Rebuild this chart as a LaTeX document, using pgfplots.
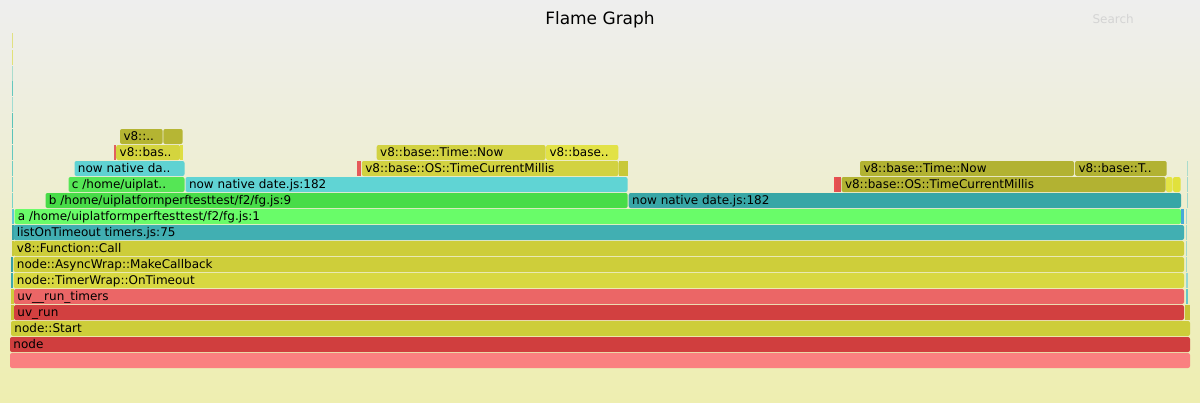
\documentclass[border=0pt]{standalone}
\usepackage{fontspec}
\setmainfont{DejaVu Sans}
\usepackage{pgfplots}
\pgfplotsset{compat=1.18}
\newcommand\lab{\fontsize{12bp}{14bp}\selectfont}
\definecolor{bgtop}{RGB}{238,238,238}
\definecolor{bgbot}{RGB}{238,238,176}
\definecolor{searchgray}{RGB}{212,212,212}
% frame: left x, width, top y, R, G, B, label
\newcommand\frm[7]{%
  \pgfmathsetmacro\xa{#1}\pgfmathsetmacro\xb{#1+#2}%
  \pgfmathsetmacro\ya{#3}\pgfmathsetmacro\yb{#3+15}%
  \ifdim#2pt>5pt
    \addplot[draw=none, fill={rgb,255:red,#4;green,#5;blue,#6}, rounded corners=2bp]
      coordinates {(\xa,\ya) (\xb,\ya) (\xb,\yb) (\xa,\yb)} -- cycle;
  \else
    \addplot[draw=none, fill={rgb,255:red,#4;green,#5;blue,#6}]
      coordinates {(\xa,\ya) (\xb,\ya) (\xb,\yb) (\xa,\yb)} -- cycle;
  \fi
  \node[anchor=base west, inner sep=0pt, font=\lab, text=black] at (axis cs:{#1+3.3},{#3+11}) {#7};
}
\begin{document}
\begin{tikzpicture}
\begin{axis}[
  scale only axis,
  width=1200bp, height=402bp,
  xmin=0, xmax=1200, ymin=0, ymax=402,
  y dir=reverse,
  axis line style={draw=none},
  ticks=none,
  clip=false,
  axis background/.style={top color=bgtop, bottom color=bgbot},
]
\frm{10}{1180}{353}{250}{128}{128}{}
\frm{10}{1180}{337}{208}{62}{62}{node}
\frm{11}{1179}{321}{205}{205}{58}{node::Start}
\frm{11}{3}{305}{200}{200}{55}{}
\frm{14}{1170}{305}{210}{64}{64}{uv\_run}
\frm{1184.5}{5}{305}{200}{195}{55}{}
\frm{11}{2.5}{289}{205}{205}{60}{}
\frm{14}{1170}{289}{235}{102}{102}{uv\_\_run\_timers}
\frm{1185.5}{2}{289}{100}{200}{200}{}
\frm{11}{2}{273}{60}{170}{170}{}
\frm{13.5}{1170.5}{273}{216}{216}{65}{node::TimerWrap::OnTimeout}
\frm{1186}{1.5}{273}{150}{215}{210}{}
\frm{11}{2}{257}{55}{160}{165}{}
\frm{13.5}{1170.5}{257}{206}{206}{58}{node::AsyncWrap::MakeCallback}
\frm{1186}{1}{257}{160}{215}{205}{}
\frm{12}{1.5}{241}{200}{200}{60}{}
\frm{13.5}{1170.5}{241}{205}{205}{58}{v8::Function::Call}
\frm{1186}{1}{241}{160}{215}{205}{}
\frm{12}{1.5}{225}{55}{160}{165}{}
\frm{13.5}{1170.5}{225}{65}{175}{178}{listOnTimeout timers.js:75}
\frm{1186}{1}{225}{160}{215}{205}{}
\frm{12}{2}{209}{95}{200}{215}{}
\frm{14.5}{1166.5}{209}{105}{252}{105}{a /home/uiplatformperftesttest/f2/fg.js:1}
\frm{1181}{3}{209}{70}{170}{215}{}
\frm{1186}{1}{209}{160}{215}{205}{}
\frm{12}{1}{193}{120}{210}{200}{}
\frm{45.5}{582.2}{193}{72}{220}{72}{b /home/uiplatformperftesttest/f2/fg.js:9}
\frm{628.7}{552.3}{193}{55}{166}{166}{now native date.js:182}
\frm{1186.5}{1}{193}{160}{215}{205}{}
\frm{12}{1}{177}{120}{210}{200}{}
\frm{68.5}{116}{177}{85}{230}{85}{c /home/uiplat..}
\frm{185.5}{442}{177}{96}{212}{212}{now native date.js:182}
\frm{833.5}{2.5}{177}{235}{80}{80}{}
\frm{836}{4.5}{177}{225}{80}{80}{}
\frm{841.5}{324}{177}{178}{178}{50}{v8::base::OS::TimeCurrentMillis}
\frm{1166}{6.5}{177}{228}{228}{70}{}
\frm{1173}{7.5}{177}{225}{225}{60}{}
\frm{1186.5}{1}{177}{160}{215}{205}{}
\frm{12}{1}{161}{110}{205}{195}{}
\frm{74.5}{110}{161}{95}{210}{210}{now native da..}
\frm{356.8}{3.7}{161}{230}{90}{90}{}
\frm{361.8}{256.7}{161}{210}{210}{65}{v8::base::OS::TimeCurrentMillis}
\frm{619}{4.5}{161}{200}{200}{55}{}
\frm{624}{3.5}{161}{200}{200}{55}{}
\frm{860}{214}{161}{178}{178}{50}{v8::base::Time::Now}
\frm{1075}{91.7}{161}{178}{178}{50}{v8::base::T..}
\frm{1186.5}{1}{161}{170}{220}{205}{}
\frm{12}{1}{145}{100}{200}{190}{}
\frm{114.3}{1.9}{145}{225}{95}{95}{}
\frm{116.2}{63.8}{145}{212}{212}{62}{v8::bas..}
\frm{180}{2.7}{145}{222}{222}{66}{}
\frm{376.7}{168.8}{145}{210}{210}{66}{v8::base::Time::Now}
\frm{546}{72.3}{145}{226}{226}{70}{v8::base..}
\frm{12}{1}{129}{90}{195}{185}{}
\frm{120}{42.7}{129}{180}{180}{50}{v8::..}
\frm{163.3}{19.4}{129}{182}{182}{52}{}
\frm{12}{1}{113}{90}{195}{185}{}
\frm{12}{1}{97}{160}{220}{210}{}
\frm{12}{1}{81}{100}{200}{190}{}
\frm{12}{1}{66}{170}{220}{205}{}
\frm{12}{1}{50}{225}{225}{120}{}
\frm{12}{1}{33}{225}{225}{130}{}
\node[anchor=base, font=\fontsize{17bp}{20bp}\selectfont, text=black] at (axis cs:600,24.5) {Flame Graph};
\node[anchor=base west, font=\lab, text=searchgray] at (axis cs:1089,24) {Search};
\end{axis}
\end{tikzpicture}
\end{document}
